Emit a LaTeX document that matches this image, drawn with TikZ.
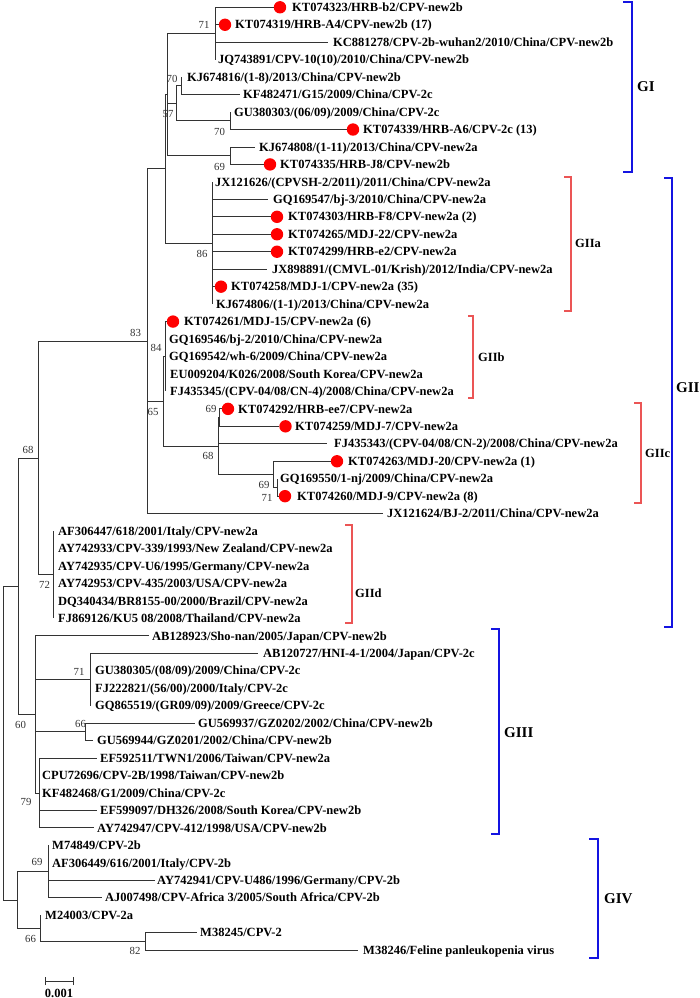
\documentclass[tikz,border=0pt]{standalone}
\usepackage{fontspec}
\setmainfont{Liberation Serif}
\definecolor{gblue}{RGB}{20,20,225}
\definecolor{gred}{RGB}{235,85,85}
\tikzset{
  branch/.style={draw=black!80, line width=0.9pt},
  lbl/.style={anchor=west, inner sep=0pt, text height=8.3pt, text depth=0pt, font=\fontsize{12.5}{14}\selectfont\bfseries},
  bs/.style={inner sep=0pt, font=\fontsize{10.8}{12}\selectfont, text=black!80},
  dot/.style={circle, fill=red, draw=none, inner sep=0pt, minimum size=12.4pt},
  bblue/.style={draw=gblue, line width=2.6pt},
  bred/.style={draw=gred, line width=1.3pt},
  gname/.style={anchor=west, inner sep=0pt, text height=10pt, text depth=0pt, font=\fontsize{15}{17}\selectfont\bfseries},
  sname/.style={anchor=west, inner sep=0pt, text height=8.3pt, text depth=0pt, font=\fontsize{12.5}{14}\selectfont\bfseries},
}
\newcommand\tleaf[6]{%
  \coordinate (#1) at (#4,{row(#3)});
  \draw[branch] (#2) |- (#1);
  \node[lbl] (#1t) at (#5,{row(#3)}) {#6};}
\newcommand\dleaf[6]{%
  \node[dot] (#1) at (#4,{row(#3)}) {};
  \draw[branch] (#2) |- (#1);
  \node[lbl] (#1t) at (#5,{row(#3)}) {#6};}
\begin{document}
\begin{tikzpicture}[x=1pt, y=-1pt, declare function={row(\i)=7.3+17.46*\i;}]
\useasboundingbox (0,0) rectangle (700,998);
% internal nodes
\coordinate (root) at (3,742);
\coordinate (nR1) at (18,586.2);
\coordinate (n68top) at (38,458);
\coordinate (n83) at (147,341.2);
\coordinate (nX) at (165,168.8);
\coordinate (nGI) at (167,94.6);
\coordinate (n71a) at (215,33.5);
\coordinate (n57) at (176,103.3);
\coordinate (n70a) at (181,85.85);
\coordinate (n70b) at (230,120.8);
\coordinate (n69a) at (230,155.7);
\coordinate (n86) at (212,243);
\coordinate (n65) at (163,401.3);
\coordinate (n84) at (165,356.5);
\coordinate (n68) at (218,446);
\coordinate (n69c) at (219,417.6);
\coordinate (nA) at (273,474.4);
\coordinate (nB) at (277,487.5);
\coordinate (nGIId) at (53,574.8);
\coordinate (n60) at (35,714.5);
\coordinate (n71c) at (90,679.5);
\coordinate (n66c) at (85,731.9);
\coordinate (n79) at (39,793);
\coordinate (nGIV) at (17,900);
\coordinate (n69d) at (48,871.6);
\coordinate (n66d) at (40,928.3);
\coordinate (n82) at (145,941.4);
% internal edges
\draw[branch] (root) |- (nR1);
\draw[branch] (root) |- (nGIV);
\draw[branch] (nR1) |- (n68top);
\draw[branch] (nR1) |- (n60);
\draw[branch] (n68top) |- (n83);
\draw[branch] (n68top) |- (nGIId);
\draw[branch] (n83) |- (nX);
\draw[branch] (n83) |- (n65);
\draw[branch] (nX) |- (nGI);
\draw[branch] (nX) |- (n86);
\draw[branch] (nGI) |- (n71a);
\draw[branch] (nGI) |- (n57);
\draw[branch] (nGI) |- (n69a);
\draw[branch] (n57) |- (n70a);
\draw[branch] (n57) |- (n70b);
\draw[branch] (n65) |- (n84);
\draw[branch] (n65) |- (n68);
\draw[branch] (n68) |- (n69c);
\draw[branch] (n68) |- (nA);
\draw[branch] (nA) |- (nB);
\draw[branch] (n60) |- (n71c);
\draw[branch] (n60) |- (n66c);
\draw[branch] (n60) |- (n79);
\draw[branch] (nGIV) |- (n69d);
\draw[branch] (nGIV) |- (n66d);
\draw[branch] (n66d) |- (n82);
% leaves
\dleaf{L0}{n71a}{0}{280}{292}{KT074323/HRB-b2/CPV-new2b}
\dleaf{L1}{n71a}{1}{225}{235}{KT074319/HRB-A4/CPV-new2b (17)}
\tleaf{L2}{n71a}{2}{328}{333}{KC881278/CPV-2b-wuhan2/2010/China/CPV-new2b}
\tleaf{L3}{n71a}{3}{215}{218}{JQ743891/CPV-10(10)/2010/China/CPV-new2b}
\tleaf{L4}{n70a}{4}{181}{187}{KJ674816/(1-8)/2013/China/CPV-new2b}
\tleaf{L5}{n70a}{5}{240}{243}{KF482471/G15/2009/China/CPV-2c}
\tleaf{L6}{n70b}{6}{230}{234}{GU380303/(06/09)/2009/China/CPV-2c}
\dleaf{L7}{n70b}{7}{353}{363}{KT074339/HRB-A6/CPV-2c (13)}
\tleaf{L8}{n69a}{8}{255}{259}{KJ674808/(1-11)/2013/China/CPV-new2a}
\dleaf{L9}{n69a}{9}{270}{280}{KT074335/HRB-J8/CPV-new2b}
\tleaf{L10}{n86}{10}{212}{215}{JX121626/(CPVSH-2/2011)/2011/China/CPV-new2a}
\tleaf{L11}{n86}{11}{268}{273}{GQ169547/bj-3/2010/China/CPV-new2a}
\dleaf{L12}{n86}{12}{277}{288}{KT074303/HRB-F8/CPV-new2a (2)}
\dleaf{L13}{n86}{13}{277}{288}{KT074265/MDJ-22/CPV-new2a}
\dleaf{L14}{n86}{14}{277}{288}{KT074299/HRB-e2/CPV-new2a}
\tleaf{L15}{n86}{15}{267}{272}{JX898891/(CMVL-01/Krish)/2012/India/CPV-new2a}
\dleaf{L16}{n86}{16}{221}{231}{KT074258/MDJ-1/CPV-new2a (35)}
\tleaf{L17}{n86}{17}{212}{216}{KJ674806/(1-1)/2013/China/CPV-new2a}
\dleaf{L18}{n84}{18}{173}{184}{KT074261/MDJ-15/CPV-new2a (6)}
\tleaf{L19}{n84}{19}{165}{169}{GQ169546/bj-2/2010/China/CPV-new2a}
\tleaf{L20}{n84}{20}{165}{169}{GQ169542/wh-6/2009/China/CPV-new2a}
\tleaf{L21}{n84}{21}{165}{170}{EU009204/K026/2008/South Korea/CPV-new2a}
\tleaf{L22}{n84}{22}{165}{170}{FJ435345/(CPV-04/08/CN-4)/2008/China/CPV-new2a}
\dleaf{L23}{n69c}{23}{228}{238}{KT074292/HRB-ee7/CPV-new2a}
\dleaf{L24}{n69c}{24}{285.5}{295}{KT074259/MDJ-7/CPV-new2a}
\tleaf{L25}{n68}{25}{327}{334}{FJ435343/(CPV-04/08/CN-2)/2008/China/CPV-new2a}
\dleaf{L26}{nA}{26}{337}{348}{KT074263/MDJ-20/CPV-new2a (1)}
\tleaf{L27}{nB}{27}{277}{280}{GQ169550/1-nj/2009/China/CPV-new2a}
\dleaf{L28}{nB}{28}{285}{297}{KT074260/MDJ-9/CPV-new2a (8)}
\tleaf{L29}{n83}{29}{383}{387}{JX121624/BJ-2/2011/China/CPV-new2a}
\tleaf{L30}{nGIId}{30}{53}{58}{AF306447/618/2001/Italy/CPV-new2a}
\tleaf{L31}{nGIId}{31}{53}{58}{AY742933/CPV-339/1993/New Zealand/CPV-new2a}
\tleaf{L32}{nGIId}{32}{53}{58}{AY742935/CPV-U6/1995/Germany/CPV-new2a}
\tleaf{L33}{nGIId}{33}{53}{58}{AY742953/CPV-435/2003/USA/CPV-new2a}
\tleaf{L34}{nGIId}{34}{53}{58}{DQ340434/BR8155-00/2000/Brazil/CPV-new2a}
\tleaf{L35}{nGIId}{35}{53}{58}{FJ869126/KU5 08/2008/Thailand/CPV-new2a}
\tleaf{L36}{n60}{36}{149}{152}{AB128923/Sho-nan/2005/Japan/CPV-new2b}
\tleaf{L37}{n71c}{37}{258}{263}{AB120727/HNI-4-1/2004/Japan/CPV-2c}
\tleaf{L38}{n71c}{38}{90}{95}{GU380305/(08/09)/2009/China/CPV-2c}
\tleaf{L39}{n71c}{39}{90}{95}{FJ222821/(56/00)/2000/Italy/CPV-2c}
\tleaf{L40}{n71c}{40}{90}{95}{GQ865519/(GR09/09)/2009/Greece/CPV-2c}
\tleaf{L41}{n66c}{41}{195}{198}{GU569937/GZ0202/2002/China/CPV-new2b}
\tleaf{L42}{n66c}{42}{93}{97}{GU569944/GZ0201/2002/China/CPV-new2b}
\tleaf{L43}{n79}{43}{97}{100}{EF592511/TWN1/2006/Taiwan/CPV-new2a}
\tleaf{L44}{n79}{44}{39}{42}{CPU72696/CPV-2B/1998/Taiwan/CPV-new2b}
\tleaf{L45}{n79}{45}{39}{42}{KF482468/G1/2009/China/CPV-2c}
\tleaf{L46}{n79}{46}{97}{100}{EF599097/DH326/2008/South Korea/CPV-new2b}
\tleaf{L47}{n79}{47}{94}{97}{AY742947/CPV-412/1998/USA/CPV-new2b}
\tleaf{L48}{n69d}{48}{48}{52}{M74849/CPV-2b}
\tleaf{L49}{n69d}{49}{48}{52}{AF306449/616/2001/Italy/CPV-2b}
\tleaf{L50}{n69d}{50}{155}{157}{AY742941/CPV-U486/1996/Germany/CPV-2b}
\tleaf{L51}{n69d}{51}{102}{105}{AJ007498/CPV-Africa 3/2005/South Africa/CPV-2b}
\tleaf{L52}{n66d}{52}{40}{45}{M24003/CPV-2a}
\tleaf{L53}{n82}{53}{197}{200}{M38245/CPV-2}
\tleaf{L54}{n82}{54}{358}{363}{M38246/Feline panleukopenia virus}
% bootstrap values
\node[bs] (b1) at (204,25) {71};
\node[bs] (b2) at (172,79) {70};
\node[bs] (b3) at (168,114) {57};
\node[bs] (b4) at (219.5,132) {70};
\node[bs] (b5) at (219.5,167) {69};
\node[bs] (b6) at (202,254) {86};
\node[bs] (b7) at (135.5,333) {83};
\node[bs] (b8) at (156,348) {84};
\node[bs] (b9) at (153,412) {65};
\node[bs] (b10) at (211,409) {69};
\node[bs] (b11) at (208,456) {68};
\node[bs] (b12) at (264,485) {69};
\node[bs] (b13) at (267,498) {71};
\node[bs] (b14) at (28,450) {68};
\node[bs] (b15) at (44.5,585) {72};
\node[bs] (b16) at (79,672) {71};
\node[bs] (b17) at (20.5,725) {60};
\node[bs] (b18) at (80.5,724) {66};
\node[bs] (b19) at (26,802) {79};
\node[bs] (b20) at (37,862) {69};
\node[bs] (b21) at (30.5,939) {66};
\node[bs] (b22) at (135,951) {82};
% group brackets
\draw[bblue] (623,2) -- (632,2) -- (632,172) -- (623,172);
\node[gname] (gI) at (637,87) {GI};
\draw[bblue] (664,178) -- (672,178) -- (672,627) -- (664,627);
\node[gname] (gII) at (676,387) {GII};
\draw[bblue] (491,629) -- (499,629) -- (499,834) -- (491,834);
\node[gname] (gIII) at (504,732) {GIII};
\draw[bblue] (589,839) -- (598,839) -- (598,958) -- (589,958);
\node[gname] (gIV) at (604,898) {GIV};
\draw[bred] (564,177) -- (571,177) -- (571,311) -- (564,311);
\node[sname] (gIIa) at (575,243) {GIIa};
\draw[bred] (468,316) -- (473,316) -- (473,398) -- (468,398);
\node[sname] (gIIb) at (478,357) {GIIb};
\draw[bred] (634,403) -- (641,403) -- (641,503) -- (634,503);
\node[sname] (gIIc) at (645,453) {GIIc};
\draw[bred] (345,525) -- (352,525) -- (352,623) -- (345,623);
\node[sname] (gIId) at (355,593) {GIId};
% scale bar
\coordinate (sb1) at (45,981);
\coordinate (sb2) at (73,981);
\draw[branch] (sb1) -- (sb2);
\draw[branch] ([yshift=-4pt]sb1) -- ([yshift=4pt]sb1);
\draw[branch] ([yshift=-4pt]sb2) -- ([yshift=4pt]sb2);
\node[lbl, anchor=center] (sbl) at (59,993) {0.001};
\end{tikzpicture}
\end{document}
